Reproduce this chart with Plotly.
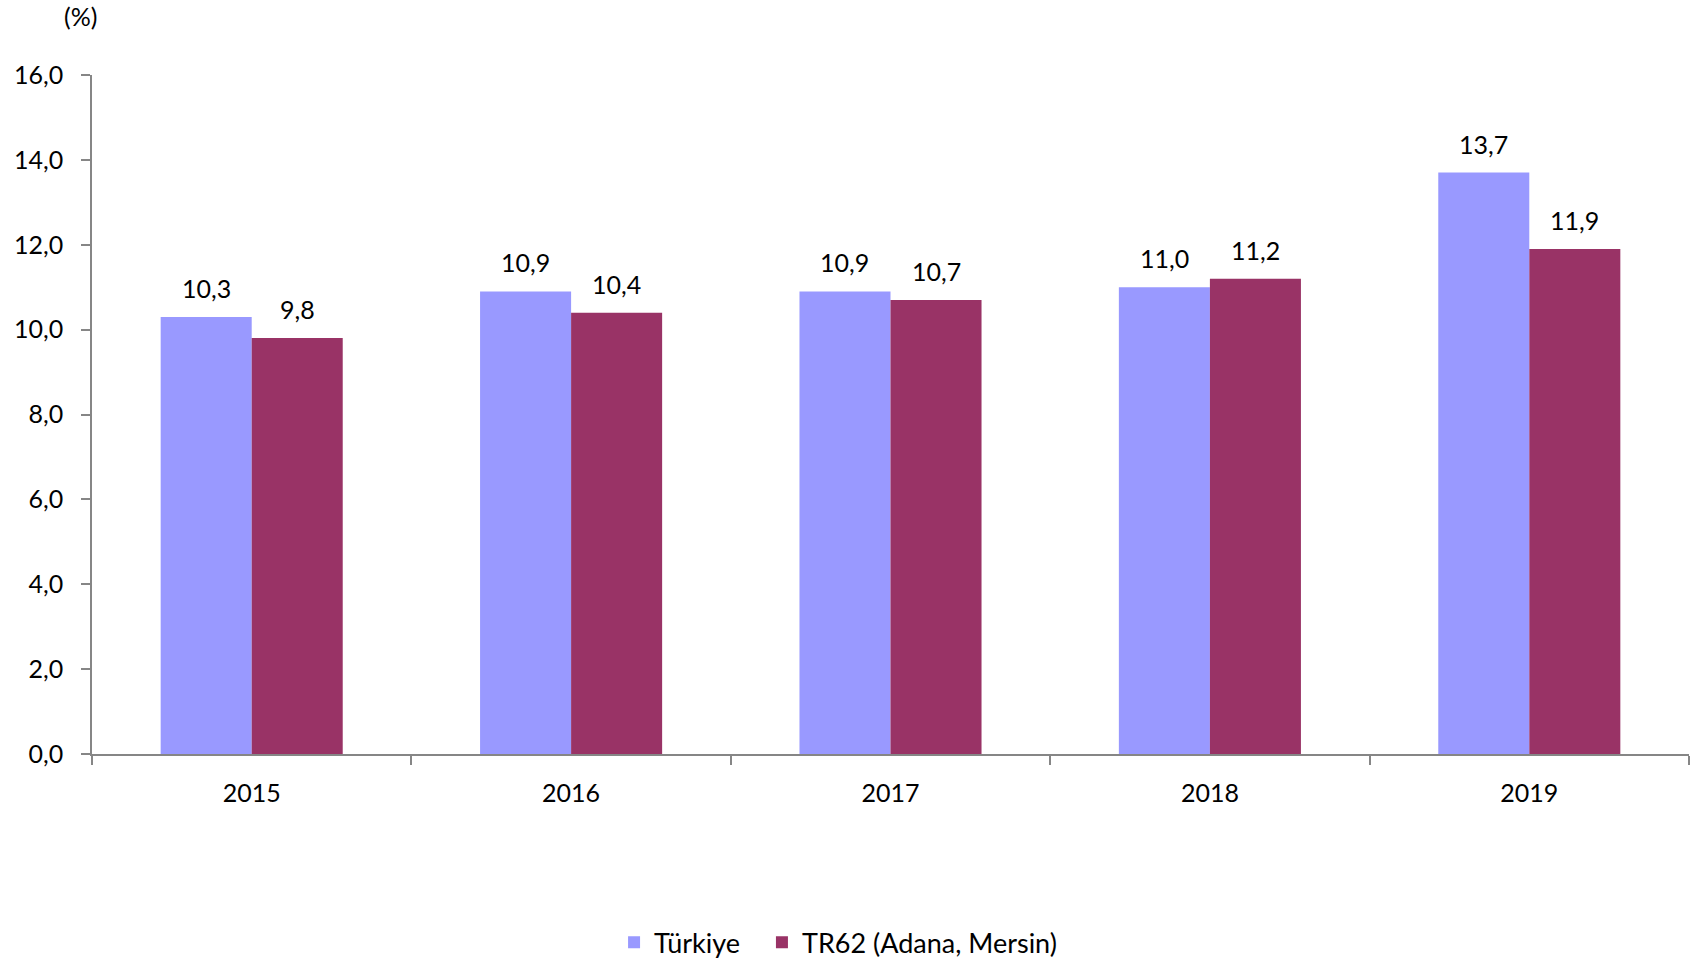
import plotly.graph_objects as go

years = ["2015", "2016", "2017", "2018", "2019"]
turkiye = [10.3, 10.9, 10.9, 11.0, 13.7]
tr62 = [9.8, 10.4, 10.7, 11.2, 11.9]
series_names = ["Türkiye", "TR62 (Adana, Mersin)"]
colors = ["#9999FF", "#993366"]

FONT = "Lato, Carlito, Calibri, sans-serif"
FS = 25
BARGAP = 0.43

fig = go.Figure()
for i, (name, vals, col) in enumerate(zip(series_names, [turkiye, tr62], colors)):
    fig.add_trace(go.Bar(
        x=years, y=vals, name=name, marker=dict(color=col, line=dict(width=0)),
        legend="legend" if i == 0 else "legend2",
    ))

# data labels as annotations placed over each bar of the group
bar_w = (1 - BARGAP) / 2
annotations = []
for si, vals in enumerate([turkiye, tr62]):
    off = (si - 0.5) * bar_w
    for ci, v in enumerate(vals):
        annotations.append(dict(
            x=ci + off, y=v, xref="x", yref="y", text=f"{v:.1f}".replace(".", ","),
            showarrow=False, xanchor="center", yanchor="middle", yshift=29,
            font=dict(size=FS, family=FONT, color="black")))
annotations.append(dict(text="(%)", xref="paper", yref="paper", x=-0.007, y=1.087,
                        xanchor="center", yanchor="middle", showarrow=False,
                        font=dict(size=FS, family=FONT, color="black")))

legend_common = dict(orientation="h", xanchor="left", y=-0.278, yanchor="middle",
                     font=dict(size=27, family=FONT), bgcolor="rgba(0,0,0,0)")

fig.update_layout(
    width=1692, height=961, template="none",
    paper_bgcolor="white", plot_bgcolor="white",
    barmode="group", bargap=BARGAP, bargroupgap=0,
    separators=",.",
    margin=dict(l=92, r=3, t=75, b=207, autoexpand=False),
    font=dict(family=FONT, size=FS, color="black"),
    showlegend=True,
    legend=dict(x=0.3269, **legend_common),
    legend2=dict(x=0.4195, **legend_common),
    annotations=annotations,
)
fig.update_yaxes(range=[0, 16], dtick=2, tickformat=".1f", showgrid=False,
                 showline=True, linecolor="#868686", linewidth=1.5, automargin=False,
                 ticks="outside", ticklen=9, tickcolor="#868686", tickwidth=1.5,
                 ticklabelstandoff=13,
                 tickfont=dict(size=FS, family=FONT), zeroline=False)
fig.update_xaxes(type="category", showgrid=False, showline=True, linecolor="#868686",
                 linewidth=1.5, automargin=False, range=[-0.5, 4.5],
                 ticks="outside", tickson="boundaries", ticklen=9, tickcolor="#868686",
                 tickwidth=1.5, ticklabelstandoff=16, tickfont=dict(size=FS, family=FONT))

fig.write_html("out.html", config={"displayModeBar": False},
               post_script="document.body.style.margin='0';document.body.style.overflow='hidden';")
